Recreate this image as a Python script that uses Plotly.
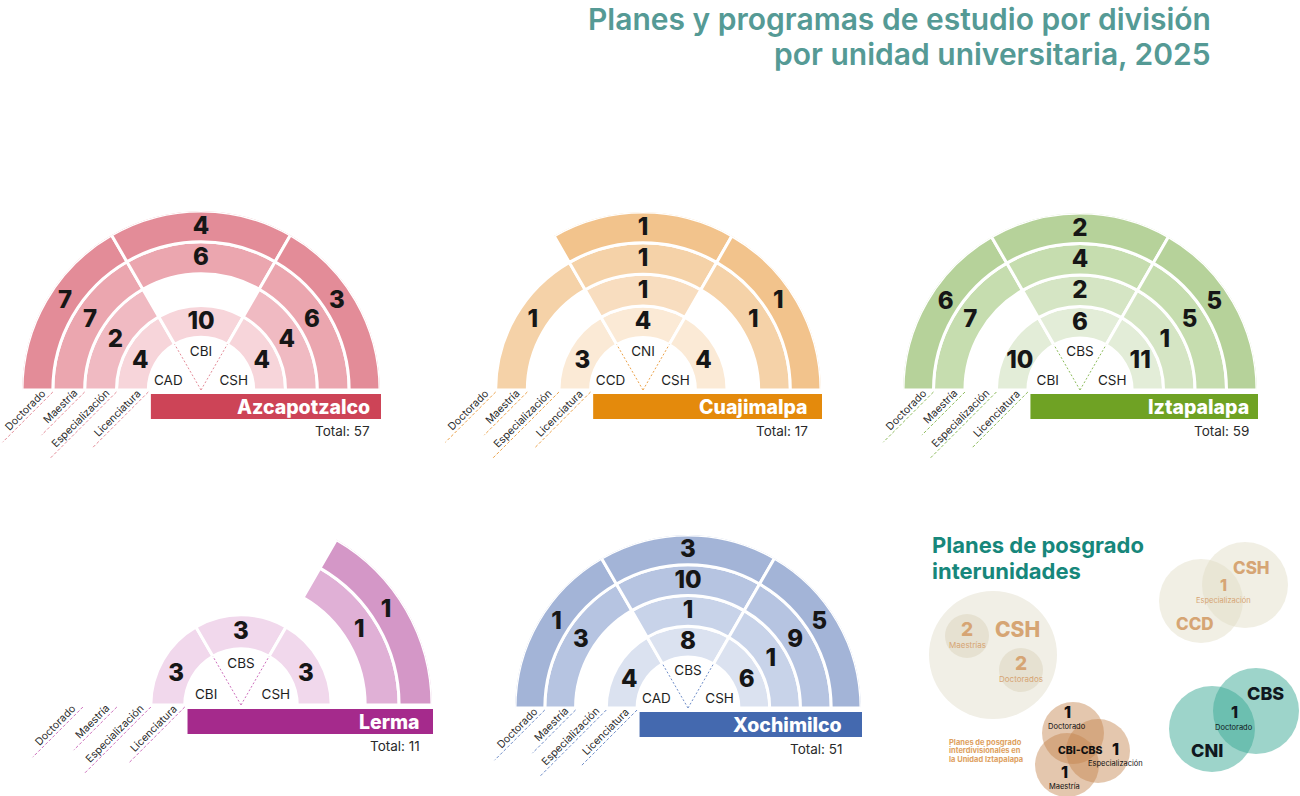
import plotly.graph_objects as go

W, H = 1300, 796

# ---------------- DATA ----------------
LEVELS = ["Licenciatura", "Especialización", "Maestría", "Doctorado"]

azc_divisions = ["CAD", "CBI", "CSH"]
azc_lic = [4, 10, 4]
azc_esp = [2, 0, 4]
azc_mae = [7, 6, 6]
azc_doc = [7, 4, 3]
azc_total = 57

cua_divisions = ["CCD", "CNI", "CSH"]
cua_lic = [3, 4, 4]
cua_esp = [0, 1, 0]
cua_mae = [1, 1, 1]
cua_doc = [0, 1, 1]
cua_total = 17

izt_divisions = ["CBI", "CBS", "CSH"]
izt_lic = [10, 6, 11]
izt_esp = [0, 2, 1]
izt_mae = [7, 4, 5]
izt_doc = [6, 2, 5]
izt_total = 59

ler_divisions = ["CBI", "CBS", "CSH"]
ler_lic = [3, 3, 3]
ler_esp = [0, 0, 0]
ler_mae = [0, 0, 1]
ler_doc = [0, 0, 1]
ler_total = 11

xoc_divisions = ["CAD", "CBS", "CSH"]
xoc_lic = [4, 8, 6]
xoc_esp = [0, 1, 1]
xoc_mae = [3, 10, 9]
xoc_doc = [1, 3, 5]
xoc_total = 51

# Interunit postgraduate plans
csh_inter_counts = [2, 2]
csh_inter_labels = ["Maestrías", "Doctorados"]
ccd_csh_count = 1
ccd_csh_label = "Especialización"
cni_cbs_count = 1
cni_cbs_label = "Doctorado"
cbi_cbs_counts = [1, 1, 1]
cbi_cbs_labels = ["Doctorado", "Especialización", "Maestría"]

# ---------------- STYLE / GEOMETRY ----------------
units = [
    dict(name="Azcapotzalco", div=azc_divisions, vals=[azc_lic, azc_esp, azc_mae, azc_doc], total=azc_total,
         cx=201, cy=390, R=179, band="#CD4457", rm=9,
         rings=["#F7D5DA", "#F0BAC2", "#EBA6AF", "#E38C98"], dash="#E38C98"),
    dict(name="Cuajimalpa", div=cua_divisions, vals=[cua_lic, cua_esp, cua_mae, cua_doc], total=cua_total,
         cx=643, cy=390, R=178, band="#E48A0C", rm=12,
         rings=["#FBEAD6", "#F8DDBF", "#F5D2A8", "#F2C38C"], dash="#EBA24A"),
    dict(name="Iztapalapa", div=izt_divisions, vals=[izt_lic, izt_esp, izt_mae, izt_doc], total=izt_total,
         cx=1080, cy=390, R=177, band="#6FA224", rm=7,
         rings=["#E3EDD8", "#D5E5C4", "#C6DDAF", "#B6D29A"], dash="#8DBB5C"),
    dict(name="Lerma", div=ler_divisions, vals=[ler_lic, ler_esp, ler_mae, ler_doc], total=ler_total,
         cx=241, cy=705, R=191, band="#A52A8C", rm=11,
         rings=["#F1D8EC", "#EAC6E3", "#E0B0D6", "#D497C7"], dash="#CD6FBC"),
    dict(name="Xochimilco", div=xoc_divisions, vals=[xoc_lic, xoc_esp, xoc_mae, xoc_doc], total=xoc_total,
         cx=688, cy=708, R=173, band="#4469AF", rm=18,
         rings=["#DBE2F0", "#C8D3E9", "#B6C4E1", "#A3B4D7"], dash="#6F8DC8"),
]

RING_BASE = [53, 85, 117, 149]
RING_W = [32, 32, 32, 31]
DIV_THETA = [150, 90, 30]
SIDE = [25, 30, 32, 33]
LABEL_LEN = [66, 80, 47, 57]
DIV_LABEL_R = [34, 38, 34]
DIV_LABEL_T = [165, 90, 15]
FONT = "Inter"
NUM_COLOR = "#161616"

fig = go.Figure()
polars = {}
annotations = []
shapes = []

for k, u in enumerate(units):
    pid = "polar" if k == 0 else f"polar{k+1}"
    cx, cy, R = u["cx"], u["cy"], u["R"]
    polars[pid] = dict(
        domain=dict(x=[(cx - R) / W, (cx + R) / W], y=[(H - cy) / H, (H - cy + R) / H]),
        sector=[0, 180], hole=0, bgcolor="rgba(0,0,0,0)", barmode="overlay",
        radialaxis=dict(range=[0, 180], visible=False, showgrid=False),
        angularaxis=dict(visible=False, showgrid=False, rotation=0, direction="counterclockwise"),
    )
    for i, vals in enumerate(u["vals"]):
        idx = [j for j in range(3) if vals[j] > 0]
        if not idx:
            continue
        fig.add_trace(go.Barpolar(
            subplot=pid, theta=[DIV_THETA[j] for j in idx], r=[RING_W[i]] * len(idx),
            base=[RING_BASE[i]] * len(idx), width=[60] * len(idx),
            marker=dict(color=u["rings"][i], line=dict(color="white", width=3)),
            hoverinfo="skip", showlegend=False))
        thetas = [180 - SIDE[i], 90, SIDE[i]]
        fig.add_trace(go.Scatterpolar(
            subplot=pid, mode="text", r=[RING_BASE[i] + RING_W[i] / 2 - 1.5] * len(idx),
            theta=[thetas[j] for j in idx], text=[str(vals[j]) for j in idx],
            textfont=dict(family=FONT, size=24, color=NUM_COLOR, weight=800),
            cliponaxis=False, hoverinfo="skip", showlegend=False))
    # hole separators
    for t in (120, 60):
        fig.add_trace(go.Scatterpolar(
            subplot=pid, mode="lines", r=[0, RING_BASE[0]], theta=[t, t],
            line=dict(color=u["dash"], width=1, dash="2px,2px"),
            hoverinfo="skip", showlegend=False))
    fig.add_trace(go.Scatterpolar(
        subplot=pid, mode="text", r=DIV_LABEL_R, theta=DIV_LABEL_T, text=u["div"],
        textfont=dict(family=FONT, size=13.5, color="#1e1e1e"),
        cliponaxis=False, hoverinfo="skip", showlegend=False))

    # band, name, total
    s = R / 180.0
    shapes.append(dict(type="rect", xref="x", yref="y", x0=cx - 0.28 * R, x1=cx + R + 1,
                       y0=cy + 4, y1=cy + 29, fillcolor=u["band"], line=dict(width=0), layer="below"))
    annotations.append(dict(xref="x", yref="y", x=cx + R + 1 - u["rm"], y=cy + 17, xanchor="right",
                            yanchor="middle", text=u["name"], showarrow=False,
                            font=dict(family=FONT, size=19.5, color="white", weight=800)))
    annotations.append(dict(xref="x", yref="y", x=cx + R + 1 - u["rm"], y=cy + 41, xanchor="right",
                            yanchor="middle", text="Total: %d" % u["total"], showarrow=False,
                            font=dict(family=FONT, size=13.5, color="#2a2a2a")))
    # level labels with dashed guides
    lx, ly = [], []
    for i, lev in enumerate(LEVELS):
        px = cx - RING_BASE[i] * s
        py = cy + 2
        L = LABEL_LEN[i]
        along = 4 + L / 2
        tx = px - 0.7071 * (along + 7)
        ty = py + 0.7071 * (along - 7)
        annotations.append(dict(xref="x", yref="y", x=tx, y=ty, xanchor="center", yanchor="middle",
                                text=lev, textangle=-45, showarrow=False,
                                font=dict(family=FONT, size=10.5, color="#2a2a2a")))
        lx += [px, px - 0.7071 * (L + 14), None]
        ly += [py, py + 0.7071 * (L + 14), None]
    fig.add_trace(go.Scatter(x=lx, y=ly, mode="lines", xaxis="x", yaxis="y",
                             line=dict(color=u["dash"], width=1, dash="3px,2px"),
                             hoverinfo="skip", showlegend=False))

# ---------------- Titles ----------------
TITLE_COLOR = "#559A95"
annotations.append(dict(xref="x", yref="y", x=1213, y=19, xanchor="right", yanchor="middle",
                        text="Planes y programas de estudio por división", showarrow=False,
                        font=dict(family=FONT, size=30, color=TITLE_COLOR, weight=600)))
annotations.append(dict(xref="x", yref="y", x=1213, y=54, xanchor="right", yanchor="middle",
                        text="por unidad universitaria, 2025", showarrow=False,
                        font=dict(family=FONT, size=30, color=TITLE_COLOR, weight=600)))

# ---------------- Venn section ----------------
TEAL = "#17877B"
TAN = "#D6A574"
annotations.append(dict(xref="x", yref="y", x=930, y=545, xanchor="left", yanchor="middle",
                        text="Planes de posgrado", showarrow=False,
                        font=dict(family=FONT, size=22, color=TEAL, weight=700)))
annotations.append(dict(xref="x", yref="y", x=930, y=571, xanchor="left", yanchor="middle",
                        text="interunidades", showarrow=False,
                        font=dict(family=FONT, size=22, color=TEAL, weight=700)))


def circle(x, y, r, color):
    shapes.append(dict(type="circle", xref="x", yref="y", x0=x - r, x1=x + r, y0=y - r, y1=y + r,
                       fillcolor=color, line=dict(width=0), layer="below"))


def txt(x, y, t, size, color, bold=True):
    annotations.append(dict(xref="x", yref="y", x=x, y=y, xanchor="center", yanchor="middle",
                            text=t, showarrow=False,
                            font=dict(family=FONT, size=size, color=color, weight=800 if bold else 400)))


# CSH interunit
circle(993, 655, 64, "#F1EFE6")
circle(967, 636, 22, "#E6E1D1")
circle(1021, 670, 22, "#E6E1D1")
txt(1017, 629, "CSH", 21, TAN)
for (x, y), c, lab in zip([(967, 629), (1021, 663)], csh_inter_counts, csh_inter_labels):
    txt(x, y, str(c), 19, TAN)
    txt(x, y + 16, lab, 8, TAN, bold=False)

# CCD - CSH
circle(1201, 601, 42, "rgba(225,220,195,0.45)")
circle(1245, 585, 43, "rgba(225,220,195,0.45)")
txt(1251, 568, "CSH", 17, TAN)
txt(1195, 624, "CCD", 17, TAN)
txt(1223, 585, str(ccd_csh_count), 16, TAN)
txt(1223, 600, ccd_csh_label, 7.5, TAN, bold=False)

# CNI - CBS
circle(1212, 729, 43, "rgba(60,170,150,0.5)")
circle(1256, 711, 43, "rgba(60,170,150,0.5)")
txt(1265, 693, "CBS", 18, "#101820")
txt(1207, 750, "CNI", 18, "#101820")
txt(1234, 712, str(cni_cbs_count), 16, "#101820")
txt(1234, 727, cni_cbs_label, 7.5, "#101820", bold=False)

# CBI - CBS (Iztapalapa)
for (x, y, r) in [(1073, 733, 31), (1098, 751, 32), (1067, 765, 32)]:
    circle(x, y, r, "rgba(195,130,75,0.45)")
txt(1080, 750, "CBI-CBS", 10.5, "#101010")
for (x, y), c, lab in zip([(1067, 712), (1115, 749), (1064, 772)], cbi_cbs_counts, cbi_cbs_labels):
    txt(x, y, str(c), 16, "#101010")
    txt(x, y + 14, lab, 7.5, "#101010", bold=False)

for j, line in enumerate(["Planes de posgrado", "interdivisionales en", "la Unidad Iztapalapa"]):
    annotations.append(dict(xref="x", yref="y", x=947, y=742 + j * 8.5, xanchor="left", yanchor="middle",
                            text=line, showarrow=False,
                            font=dict(family=FONT, size=7.5, color="#DE9F60", weight=700)))

fig.update_layout(
    width=W, height=H, margin=dict(l=0, r=0, t=0, b=0, pad=0),
    paper_bgcolor="white", plot_bgcolor="rgba(0,0,0,0)",
    xaxis=dict(range=[0, W], domain=[0, 1], visible=False, fixedrange=True),
    yaxis=dict(range=[H, 0], domain=[0, 1], visible=False, fixedrange=True),
    annotations=annotations, shapes=shapes, showlegend=False,
    font=dict(family=FONT),
    **polars,
)

fig.write_html("out.html", config={"displayModeBar": False},
               post_script="document.body.style.margin='0';document.body.style.overflow='hidden';")
